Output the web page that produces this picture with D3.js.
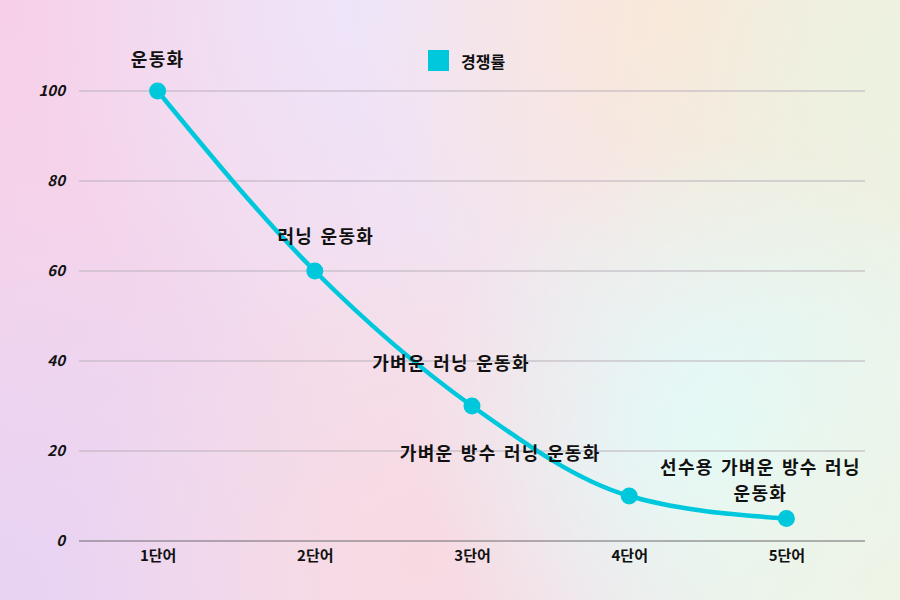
<!DOCTYPE html>
<html><head><meta charset="utf-8">
<script src="https://cdn.jsdelivr.net/npm/d3@7"></script>
<style>html,body{margin:0;padding:0;}svg{display:block;}</style>
</head><body>
<svg id="chart" width="900" height="600"></svg>
<script>
const categories = ["1단어", "2단어", "3단어", "4단어", "5단어"];
const values = [100, 60, 30, 10, 5];
const labels = ["운동화", "러닝 운동화", "가벼운 러닝 운동화", "가벼운 방수 러닝 운동화", "선수용 가벼운 방수 러닝 운동화"];
const yTicks = [0, 20, 40, 60, 80, 100];
const seriesName = "경쟁률";

const W = 900, H = 600;
const margin = {left: 79, right: 35, top: 91, bottom: 59};
const svg = d3.select("#chart");
const defs = svg.append("defs");

// background mesh-like gradient
const blobs = [
  {id:"g1", cx:0, cy:0, r:520, c:"#f7d0e8"},
  {id:"g2", cx:380, cy:10, r:360, c:"#eee5fa"},
  {id:"g3", cx:680, cy:20, r:330, c:"#fce6d8"},
  {id:"g4", cx:900, cy:80, r:320, c:"#ecf2e0"},
  {id:"g5", cx:0, cy:600, r:420, c:"#e8d3f4"},
  {id:"g6", cx:420, cy:560, r:330, c:"#f8d9e2"},
  {id:"g7", cx:720, cy:440, r:300, c:"#e2fbf8"},
  {id:"g8", cx:900, cy:600, r:300, c:"#eef4e6"}
];
const bg = defs.append("linearGradient").attr("id","bgbase").attr("x1","0").attr("y1","0").attr("x2","1").attr("y2","0");
bg.append("stop").attr("offset","0").attr("stop-color","#f2d6ec");
bg.append("stop").attr("offset","0.5").attr("stop-color","#f3e3ee");
bg.append("stop").attr("offset","1").attr("stop-color","#eef2e8");
svg.append("rect").attr("width",W).attr("height",H).attr("fill","url(#bgbase)");
blobs.forEach(b=>{
  const g = defs.append("radialGradient").attr("id",b.id).attr("gradientUnits","userSpaceOnUse")
    .attr("cx",b.cx).attr("cy",b.cy).attr("r",b.r);
  g.append("stop").attr("offset","0").attr("stop-color",b.c).attr("stop-opacity",1);
  g.append("stop").attr("offset","1").attr("stop-color",b.c).attr("stop-opacity",0);
  svg.append("rect").attr("width",W).attr("height",H).attr("fill",`url(#${b.id})`);
});

const x = d3.scalePoint().domain(categories).range([margin.left, W - margin.right]).padding(0.5);
const y = d3.scaleLinear().domain([0, 100]).range([H - margin.bottom, margin.top]);

const labelFont = "'Noto Sans CJK KR', 'Noto Sans', sans-serif";

// grid
svg.append("g").selectAll("line").data(yTicks.filter(d=>d>0)).join("line")
  .attr("x1", margin.left).attr("x2", W - margin.right)
  .attr("y1", d=>y(d)).attr("y2", d=>y(d))
  .attr("stroke", "#b9b1ba").attr("stroke-width", 1);

// y axis
const yAxis = svg.append("g").attr("transform", `translate(${margin.left},0)`)
  .call(d3.axisLeft(y).tickValues(yTicks).tickSize(0).tickPadding(14));
yAxis.select(".domain").remove();
yAxis.selectAll("text").attr("font-family", labelFont).attr("font-weight", 700)
  .attr("font-style","italic").attr("font-size", 15).attr("fill", "#111");

// x axis
const xAxis = svg.append("g").attr("transform", `translate(0,${y(0)})`)
  .call(d3.axisBottom(x).tickSize(0).tickPadding(9));
xAxis.select(".domain").attr("d", `M${margin.left},0H${W - margin.right}`).attr("stroke", "#6f6a70").attr("stroke-width", 1.2);
xAxis.selectAll("text").attr("font-family", labelFont).attr("font-weight", 700)
  .attr("font-size", 15).attr("fill", "#111");

const data = categories.map((c,i)=>({c, v: values[i], label: labels[i]}));
const color = "#00c8dc";

svg.append("path").datum(data)
  .attr("fill","none").attr("stroke", color).attr("stroke-width", 4.5)
  .attr("d", d3.line().x(d=>x(d.c)).y(d=>y(d.v)).curve(d3.curveMonotoneX));

svg.append("g").selectAll("circle").data(data).join("circle")
  .attr("cx", d=>x(d.c)).attr("cy", d=>y(d.v)).attr("r", 8.5).attr("fill", color);

// data labels (offsets relative to each point)
const offsets = [
  {dx: 0, dy: -33, lines: ["운동화"]},
  {dx: 11, dy: -36, lines: ["러닝 운동화"]},
  {dx: -21, dy: -44, lines: ["가벼운 러닝 운동화"]},
  {dx: -129, dy: -44, lines: ["가벼운 방수 러닝 운동화"]},
  {dx: -26, dy: -53, lines: ["선수용 가벼운 방수 러닝", "운동화"]}
];
const lg = svg.append("g");
data.forEach((d,i)=>{
  const o = offsets[i];
  const t = lg.append("text")
    .attr("x", x(d.c) + o.dx).attr("y", y(d.v) + o.dy)
    .attr("text-anchor","middle").attr("dominant-baseline","central")
    .attr("font-family", labelFont).attr("font-weight", 700).attr("font-size", 18)
    .attr("letter-spacing", 1.3).attr("word-spacing", 2).attr("fill", "#111");
  o.lines.forEach((ln,k)=>{
    t.append("tspan").attr("x", x(d.c) + o.dx).attr("dy", k===0 ? 0 : 26).text(ln);
  });
});

// legend
const leg = svg.append("g").attr("transform", "translate(428,50)");
leg.append("rect").attr("width", 21).attr("height", 21).attr("fill", color);
leg.append("text").attr("x", 33).attr("y", 11).attr("dominant-baseline","central")
  .attr("font-family", labelFont).attr("font-weight", 700).attr("font-size", 16).attr("fill","#111")
  .text(seriesName);
</script>
</body></html>
